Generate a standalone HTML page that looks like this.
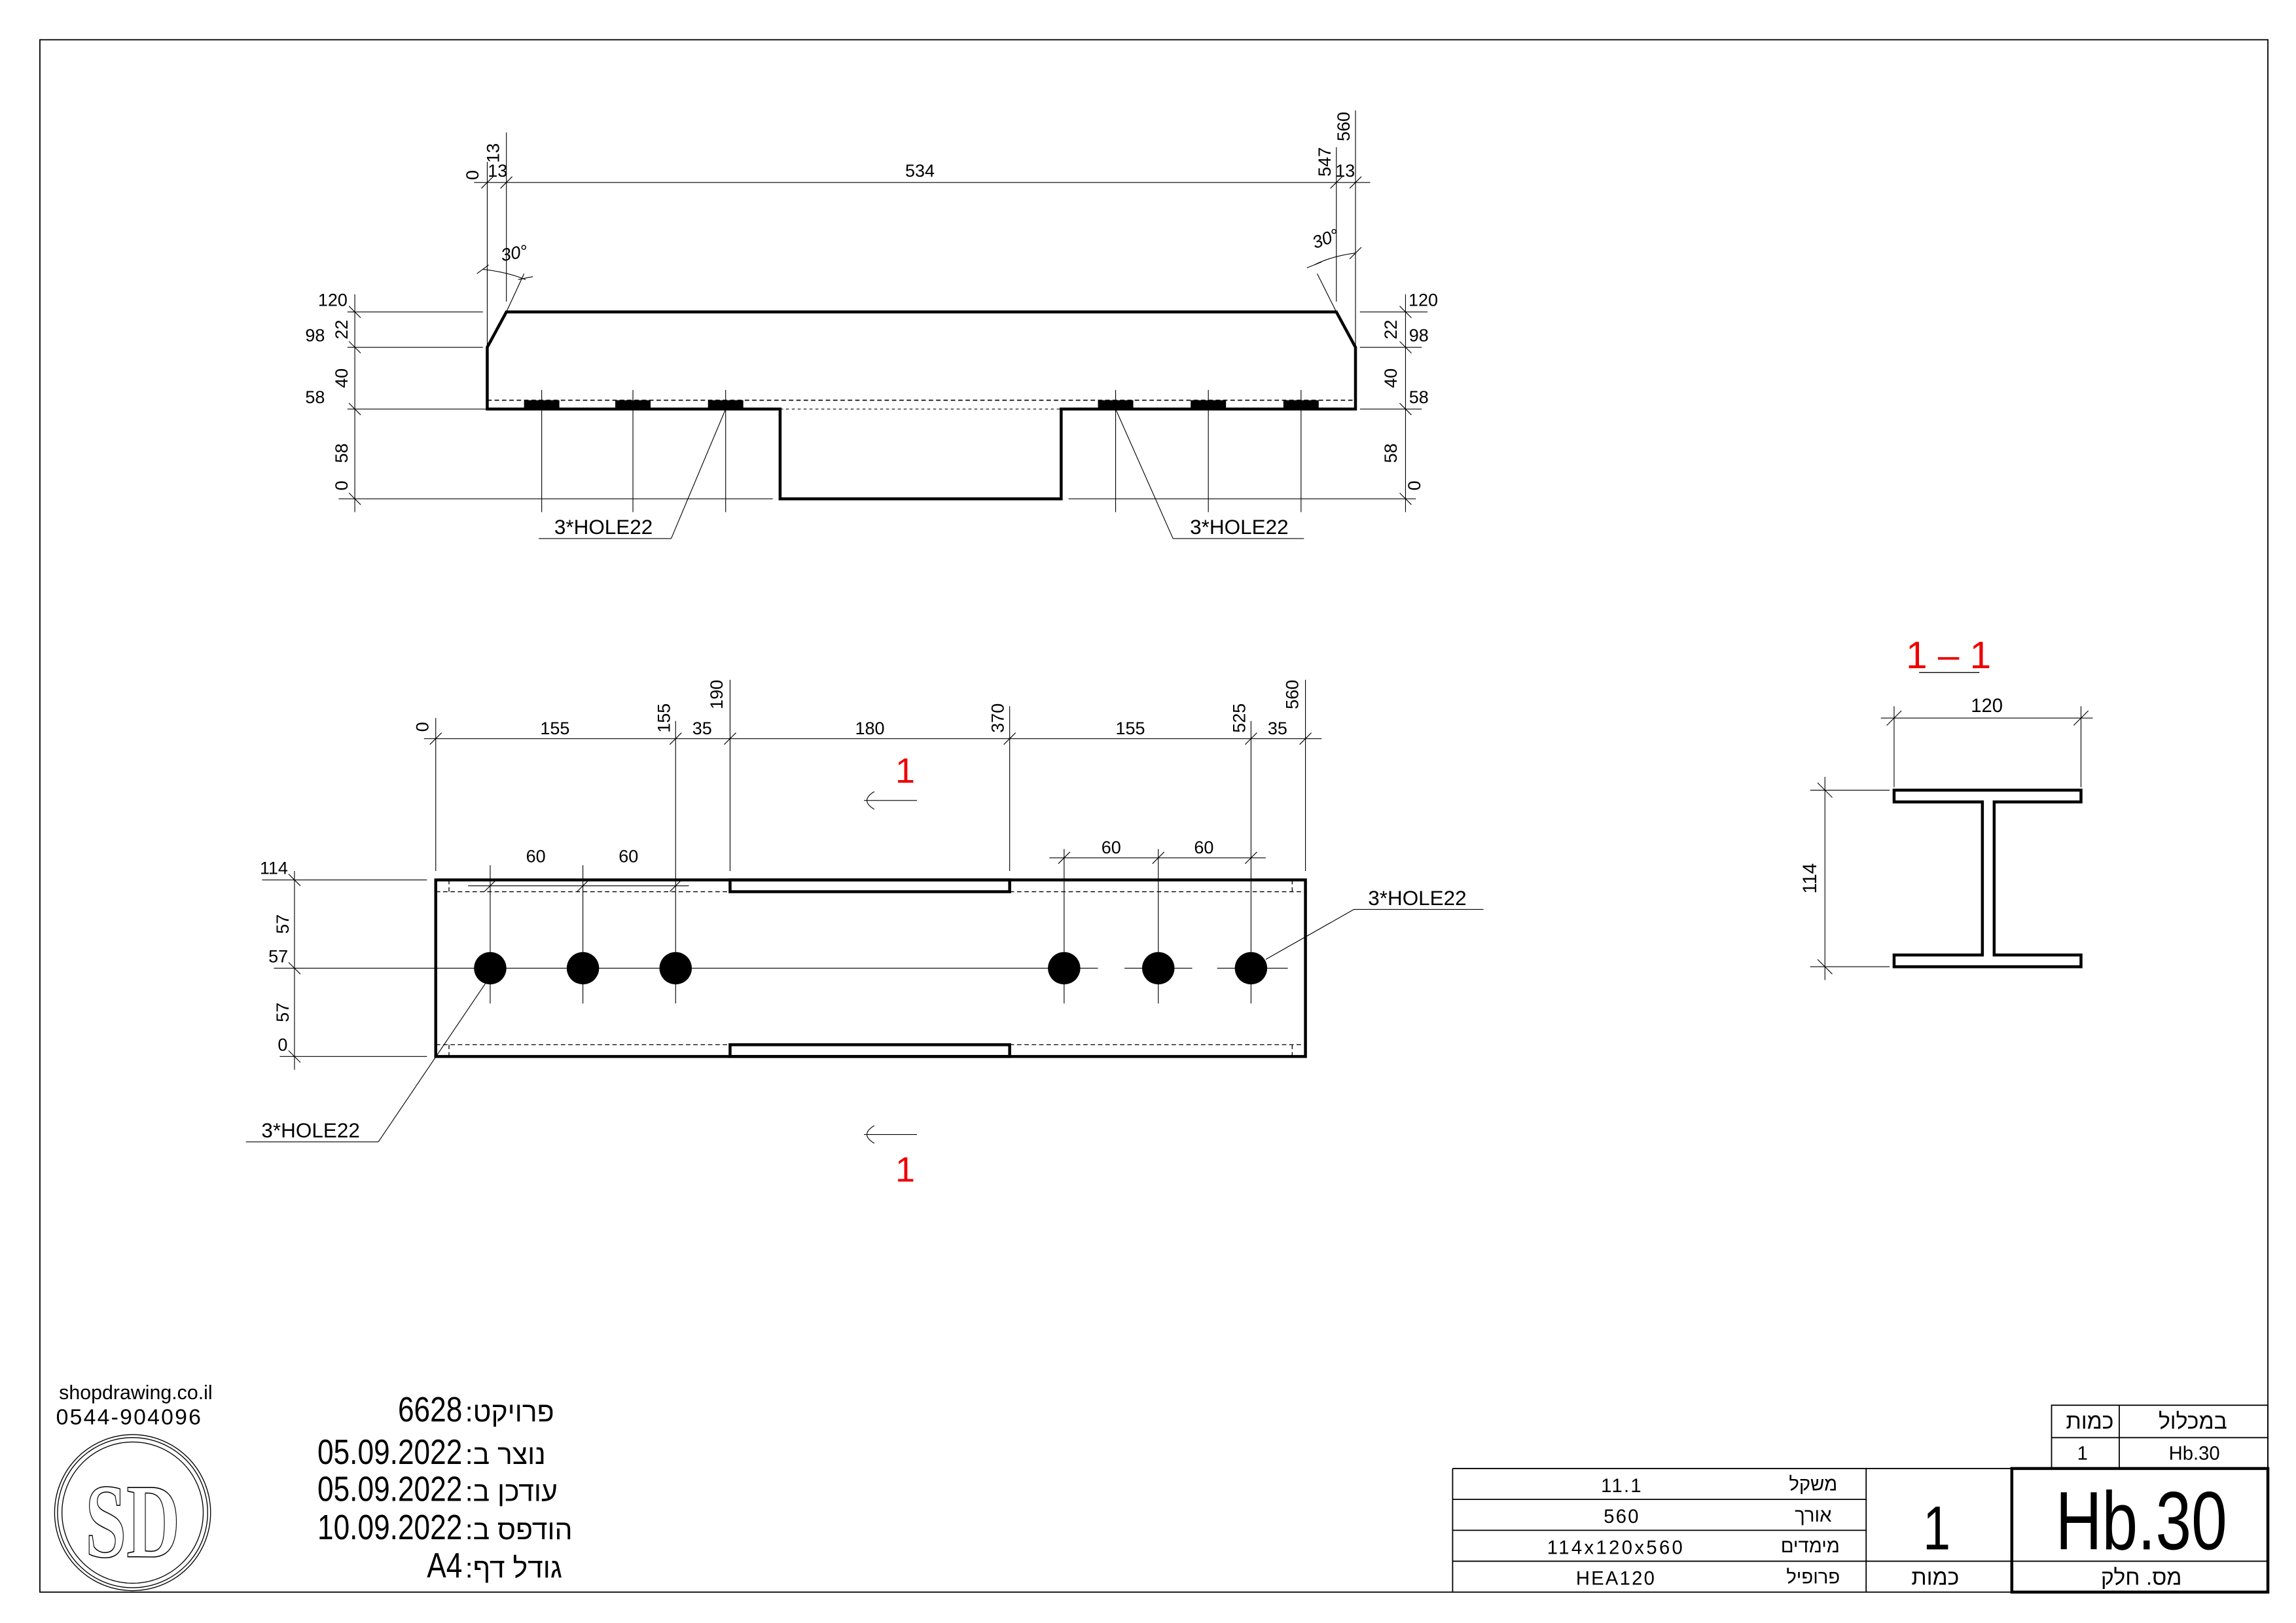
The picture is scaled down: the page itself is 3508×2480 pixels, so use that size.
<!DOCTYPE html>
<html><head><meta charset="utf-8"><style>
html,body{margin:0;padding:0;background:#fff;}
svg{display:block;}
text{font-family:"Liberation Sans","DejaVu Sans",sans-serif;}
</style></head><body>
<svg width="3508" height="2480" viewBox="0 0 1560 1103" xmlns="http://www.w3.org/2000/svg">
<rect x="0" y="0" width="1560" height="1103" fill="#fff"/>
<rect x="27" y="27" width="1514" height="1055" fill="none" stroke="#000" stroke-width="0.8"/>

<!-- ===== TOP VIEW (elevation) ===== -->
<g stroke="#000" fill="none">
<path d="M331,236 L344,212 L908,212 L921,236 L921,278 L721,278 L721,339 L530,339 L530,278 L331,278 Z" stroke-width="2"/>
<line x1="331" y1="272" x2="921" y2="272" stroke-width="0.7" stroke-dasharray="3,2"/>
<line x1="530" y1="278" x2="721" y2="278" stroke-width="0.5" stroke-dasharray="2,2"/>
<g stroke-width="0.5">
<line x1="368" y1="265" x2="368" y2="348"/><line x1="430" y1="265" x2="430" y2="348"/><line x1="493" y1="265" x2="493" y2="348"/>
<line x1="758" y1="265" x2="758" y2="348"/><line x1="821" y1="265" x2="821" y2="348"/><line x1="884" y1="265" x2="884" y2="348"/>
<line x1="322" y1="124" x2="931" y2="124"/>
<line x1="331" y1="110" x2="331" y2="236"/>
<line x1="344" y1="90" x2="344" y2="205"/>
<line x1="908" y1="100" x2="908" y2="205"/>
<line x1="921" y1="75" x2="921" y2="236"/>
<line x1="327" y1="128" x2="335" y2="120"/><line x1="340" y1="128" x2="348" y2="120"/>
<line x1="904" y1="128" x2="912" y2="120"/><line x1="917" y1="128" x2="925" y2="120"/>
<line x1="241" y1="200" x2="241" y2="348"/>
<line x1="236" y1="212" x2="328" y2="212"/>
<line x1="236" y1="236" x2="328" y2="236"/>
<line x1="236" y1="278" x2="330" y2="278"/>
<line x1="230" y1="339" x2="525" y2="339"/>
<line x1="237" y1="208" x2="245" y2="216"/><line x1="237" y1="232" x2="245" y2="240"/><line x1="237" y1="274" x2="245" y2="282"/><line x1="237" y1="335" x2="245" y2="343"/>
<line x1="955" y1="200" x2="955" y2="348"/>
<line x1="924" y1="212" x2="970" y2="212"/>
<line x1="924" y1="236" x2="966" y2="236"/>
<line x1="924" y1="278" x2="966" y2="278"/>
<line x1="726" y1="339" x2="962" y2="339"/>
<line x1="951" y1="208" x2="959" y2="216"/><line x1="951" y1="232" x2="959" y2="240"/><line x1="951" y1="274" x2="959" y2="282"/><line x1="951" y1="335" x2="959" y2="343"/>
<line x1="344" y1="212" x2="356" y2="186"/>
<path d="M328,183 Q345,185 357,190"/>
<line x1="324" y1="186" x2="332" y2="180"/><line x1="352" y1="190" x2="362" y2="188"/>
<line x1="908" y1="212" x2="895" y2="186"/>
<path d="M893,180 Q905,174 921,172"/>
<line x1="888" y1="182" x2="898" y2="178"/><line x1="917" y1="176" x2="925" y2="168"/>
<line x1="493" y1="278" x2="456" y2="366"/><line x1="366" y1="366" x2="456" y2="366"/>
<line x1="758" y1="278" x2="797" y2="366"/><line x1="797" y1="366" x2="886" y2="366"/>
</g>
</g>
<g fill="#000">
<rect x="356" y="272" width="24" height="6"/><rect x="418" y="272" width="24" height="6"/><rect x="481" y="272" width="24" height="6"/>
<rect x="746" y="272" width="24" height="6"/><rect x="809" y="272" width="24" height="6"/><rect x="872" y="272" width="24" height="6"/>
</g>
<g font-size="12" fill="#000" text-anchor="middle">
<text x="338" y="120">13</text>
<text x="625" y="120">534</text>
<text x="914" y="120">13</text>
<text transform="translate(325,119) rotate(-90)">0</text>
<text transform="translate(339,104) rotate(-90)">13</text>
<text transform="translate(904,110) rotate(-90)">547</text>
<text transform="translate(917,86) rotate(-90)">560</text>
<text transform="translate(350,176) rotate(-10)" font-style="italic">30°</text>
<text transform="translate(902,166) rotate(-20)" font-style="italic">30°</text>
<text x="226" y="208">120</text><text x="214" y="232">98</text><text x="214" y="274">58</text>
<text transform="translate(236,224) rotate(-90)">22</text>
<text transform="translate(236,257) rotate(-90)">40</text>
<text transform="translate(236,308) rotate(-90)">58</text>
<text transform="translate(236,330) rotate(-90)">0</text>
<text x="967" y="208">120</text><text x="964" y="232">98</text><text x="964" y="274">58</text>
<text transform="translate(949,224) rotate(-90)">22</text>
<text transform="translate(949,257) rotate(-90)">40</text>
<text transform="translate(949,308) rotate(-90)">58</text>
<text transform="translate(965,330) rotate(-90)">0</text>
<text x="410" y="363" font-size="14">3*HOLE22</text>
<text x="842" y="363" font-size="14">3*HOLE22</text>
</g>

<!-- ===== PLAN VIEW ===== -->
<g stroke="#000" fill="none">
<rect x="296" y="598" width="591" height="120" stroke-width="2"/>
<rect x="496" y="598" width="190" height="8" stroke-width="2"/>
<rect x="496" y="710" width="190" height="8" stroke-width="2"/>
<g stroke-width="0.6" stroke-dasharray="3,2">
<line x1="296" y1="606" x2="496" y2="606"/><line x1="686" y1="606" x2="887" y2="606"/>
<line x1="296" y1="710" x2="496" y2="710"/><line x1="686" y1="710" x2="887" y2="710"/>
<line x1="305" y1="598" x2="305" y2="606"/><line x1="878" y1="598" x2="878" y2="606"/>
<line x1="305" y1="710" x2="305" y2="718"/><line x1="878" y1="710" x2="878" y2="718"/>
</g>
<g stroke-width="0.5">
<line x1="186" y1="658" x2="746" y2="658"/>
<line x1="764" y1="658" x2="810" y2="658"/>
<line x1="827" y1="658" x2="875" y2="658"/>
<line x1="333" y1="588" x2="333" y2="682"/><line x1="396" y1="588" x2="396" y2="682"/><line x1="459" y1="490" x2="459" y2="682"/>
<line x1="723" y1="577" x2="723" y2="682"/><line x1="787" y1="577" x2="787" y2="682"/><line x1="850" y1="490" x2="850" y2="682"/>
<line x1="288" y1="502" x2="898" y2="502"/>
<line x1="296" y1="488" x2="296" y2="592"/>
<line x1="496" y1="462" x2="496" y2="592"/>
<line x1="686" y1="480" x2="686" y2="592"/>
<line x1="887" y1="462" x2="887" y2="592"/>
<line x1="292" y1="506" x2="300" y2="498"/><line x1="455" y1="506" x2="463" y2="498"/><line x1="492" y1="506" x2="500" y2="498"/>
<line x1="682" y1="506" x2="690" y2="498"/><line x1="846" y1="506" x2="854" y2="498"/><line x1="883" y1="506" x2="891" y2="498"/>
<line x1="318" y1="602" x2="468" y2="602"/>
<line x1="329" y1="606" x2="337" y2="598"/><line x1="392" y1="606" x2="400" y2="598"/><line x1="455" y1="606" x2="463" y2="598"/>
<line x1="713" y1="583" x2="860" y2="583"/>
<line x1="719" y1="587" x2="727" y2="579"/><line x1="783" y1="587" x2="791" y2="579"/><line x1="846" y1="587" x2="854" y2="579"/>
<line x1="200" y1="592" x2="200" y2="727"/>
<line x1="178" y1="598" x2="290" y2="598"/>
<line x1="190" y1="718" x2="290" y2="718"/>
<line x1="196" y1="594" x2="204" y2="602"/><line x1="196" y1="654" x2="204" y2="662"/><line x1="196" y1="714" x2="204" y2="722"/>
<line x1="330" y1="668" x2="257" y2="776"/><line x1="167" y1="776" x2="257" y2="776"/>
<line x1="860" y1="652" x2="920" y2="618"/><line x1="920" y1="618" x2="1008" y2="618"/>
<line x1="587" y1="544" x2="623" y2="544"/>
<path d="M594,538 Q584,544 594,550"/>
<line x1="587" y1="771" x2="623" y2="771"/>
<path d="M594,765 Q584,771 594,777"/>
</g>
</g>
<g fill="#000">
<circle cx="333" cy="658" r="11"/><circle cx="396" cy="658" r="11"/><circle cx="459" cy="658" r="11"/>
<circle cx="723" cy="658" r="11"/><circle cx="787" cy="658" r="11"/><circle cx="850" cy="658" r="11"/>
</g>
<g font-size="12" fill="#000" text-anchor="middle">
<text transform="translate(291,494) rotate(-90)">0</text>
<text x="377" y="499">155</text>
<text transform="translate(455,488) rotate(-90)">155</text>
<text x="477" y="499">35</text>
<text transform="translate(491,472) rotate(-90)">190</text>
<text x="591" y="499">180</text>
<text transform="translate(682,488) rotate(-90)">370</text>
<text x="768" y="499">155</text>
<text transform="translate(846,488) rotate(-90)">525</text>
<text x="868" y="499">35</text>
<text transform="translate(882,472) rotate(-90)">560</text>
<text x="364" y="586">60</text><text x="427" y="586">60</text>
<text x="755" y="580">60</text><text x="818" y="580">60</text>
<text x="186" y="594">114</text>
<text transform="translate(196,628) rotate(-90)">57</text>
<text x="189" y="654">57</text>
<text transform="translate(196,688) rotate(-90)">57</text>
<text x="192" y="714">0</text>
<text x="211" y="773" font-size="14">3*HOLE22</text>
<text x="963" y="615" font-size="14">3*HOLE22</text>
</g>
<text x="615" y="532" font-size="24" fill="#e00" text-anchor="middle">1</text>
<text x="615" y="803" font-size="24" fill="#e00" text-anchor="middle">1</text>

<!-- ===== SECTION 1-1 ===== -->
<text x="1324" y="454" font-size="26" fill="#e00" text-anchor="middle">1 – 1</text>
<line x1="1304" y1="457" x2="1345" y2="457" stroke="#000" stroke-width="0.6"/>
<g stroke="#000" fill="none" stroke-width="0.5">
<line x1="1278" y1="488" x2="1422" y2="488"/>
<line x1="1287" y1="480" x2="1287" y2="535"/><line x1="1414" y1="480" x2="1414" y2="535"/>
<line x1="1282" y1="493" x2="1292" y2="483"/><line x1="1409" y1="493" x2="1419" y2="483"/>
<line x1="1240" y1="528" x2="1240" y2="666"/>
<line x1="1230" y1="537" x2="1284" y2="537"/><line x1="1230" y1="657" x2="1284" y2="657"/>
<line x1="1235" y1="532" x2="1245" y2="542"/><line x1="1235" y1="652" x2="1245" y2="662"/>
</g>
<path d="M1287,537 H1414 V545 H1355 V649 H1414 V657 H1287 V649 H1347 V545 H1287 Z" fill="none" stroke="#000" stroke-width="2"/>
<text x="1350" y="484" font-size="13" text-anchor="middle">120</text>
<text transform="translate(1234,597) rotate(-90)" font-size="13" text-anchor="middle">114</text>

<!-- ===== LOGO & INFO ===== -->
<text x="40" y="951" font-size="13.5" fill="#000">shopdrawing.co.il</text>
<text x="38" y="968" font-size="15" fill="#000" letter-spacing="1">0544-904096</text>
<g fill="none" stroke="#000" stroke-width="0.6">
<circle cx="90" cy="1028" r="53"/><circle cx="90" cy="1028" r="51"/><circle cx="90" cy="1028" r="48"/>
</g>
<text x="90" y="1058" style="font-family:'Liberation Serif','DejaVu Serif',serif;font-weight:bold" font-size="72" fill="#fff" stroke="#000" stroke-width="0.7" text-anchor="middle" transform="translate(90,0) scale(0.7,1) translate(-90,0)">SD</text>
<g font-size="24" fill="#000" transform="scale(0.82,1)">
<text x="383" y="966" text-anchor="end">6628</text>
<text x="383" y="995" text-anchor="end">05.09.2022</text>
<text x="383" y="1020" text-anchor="end">05.09.2022</text>
<text x="383" y="1046" text-anchor="end">10.09.2022</text>
<text x="383" y="1072" text-anchor="end">A4</text>
</g>
<g font-size="19" fill="#000">
<text x="316" y="966">:פרויקט</text>
<text x="316" y="995">:נוצר ב</text>
<text x="316" y="1020">:עודכן ב</text>
<text x="316" y="1046">:הודפס ב</text>
<text x="316" y="1072">:גודל דף</text>
</g>

<!-- ===== TITLE BLOCK ===== -->
<g stroke="#000" fill="none" stroke-width="0.8">
<line x1="987" y1="998" x2="1367" y2="998"/>
<line x1="987" y1="998" x2="987" y2="1082"/>
<line x1="987" y1="1019" x2="1268" y2="1019"/>
<line x1="987" y1="1040" x2="1268" y2="1040"/>
<line x1="987" y1="1061" x2="1268" y2="1061"/>
<line x1="1268" y1="998" x2="1268" y2="1082"/>
<line x1="1268" y1="1061" x2="1367" y2="1061"/>
<rect x="1394" y="955" width="147" height="43"/>
<line x1="1394" y1="977" x2="1541" y2="977"/>
<line x1="1440" y1="955" x2="1440" y2="998"/>
<line x1="1367" y1="1061" x2="1541" y2="1061"/>
</g>
<rect x="1367" y="998" width="174" height="84" fill="none" stroke="#000" stroke-width="2"/>
<g font-size="13" fill="#000" text-anchor="middle">
<text x="1102" y="1014" letter-spacing="1">11.1</text>
<text x="1102" y="1035" letter-spacing="1">560</text>
<text x="1098" y="1056" letter-spacing="1.5">114x120x560</text>
<text x="1098" y="1077" letter-spacing="1">HEA120</text>
<text x="1232" y="1013">משקל</text>
<text x="1232" y="1034">אורך</text>
<text x="1230" y="1055">מימדים</text>
<text x="1232" y="1076">פרופיל</text>
<text x="1315" y="1077" font-size="15">כמות</text>
<text x="1455" y="1077" font-size="15">מס. חלק</text>
<text x="1420" y="971" font-size="15">כמות</text>
<text x="1490" y="971" font-size="15">במכלול</text>
<text x="1415" y="992">1</text>
<text x="1491" y="992">Hb.30</text>
</g>
<text x="1316" y="1053" font-size="42" text-anchor="middle" transform="translate(1316,0) scale(0.8,1) translate(-1316,0)">1</text>
<text x="1455" y="1053" font-size="56" text-anchor="middle" transform="translate(1455,0) scale(0.78,1) translate(-1455,0)">Hb.30</text>
</svg>
</body></html>
